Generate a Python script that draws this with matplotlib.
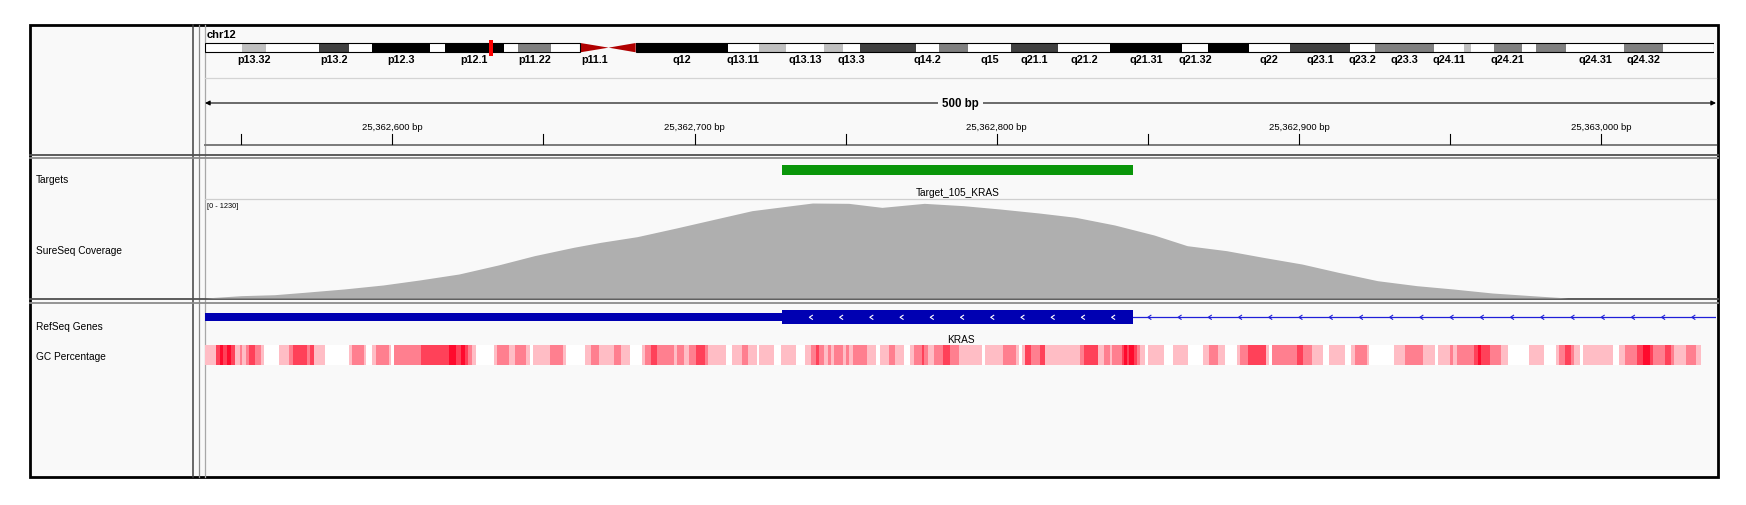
import matplotlib
matplotlib.use("Agg")
import matplotlib.pyplot as plt
import numpy as np
from matplotlib.patches import Rectangle, Polygon

plt.rcParams['font.family'] = ['Liberation Sans', 'DejaVu Sans']

W, H = 1746, 506
VIEW_START = 25362538
VIEW_END = VIEW_START + 500
CHR_LEN = 133.851895  # Mb
CURRENT_CHR = "chr12"

# chr12 cytobands (Mb)
band_names = ["p13.33", "p13.32", "p13.31", "p13.2", "p13.1", "p12.3", "p12.2", "p12.1",
              "p11.23", "p11.22", "p11.21", "p11.1", "q11", "q12", "q13.11", "q13.12",
              "q13.13", "q13.2", "q13.3", "q14.1", "q14.2", "q14.3", "q15", "q21.1",
              "q21.2", "q21.31", "q21.32", "q21.33", "q22", "q23.1", "q23.2", "q23.3",
              "q24.11", "q24.12", "q24.13", "q24.21", "q24.22", "q24.23", "q24.31",
              "q24.32", "q24.33"]
band_start = [0.0, 3.3, 5.4, 10.1, 12.8, 14.8, 20.0, 21.3, 26.5, 27.8, 30.7, 33.3, 35.8,
              38.2, 46.4, 49.1, 51.5, 54.9, 56.6, 58.1, 63.1, 65.1, 67.7, 71.5, 75.7, 80.3,
              86.7, 89.0, 92.6, 96.2, 101.6, 103.8, 109.0, 111.7, 112.3, 114.3, 116.8,
              118.1, 120.7, 125.9, 129.3]
band_end = band_start[1:] + [CHR_LEN]
band_stain = ["gneg", "gpos25", "gneg", "gpos75", "gneg", "gpos100", "gneg", "gpos100",
              "gneg", "gpos50", "gneg", "acen", "acen", "gpos100", "gneg", "gpos25",
              "gneg", "gpos25", "gneg", "gpos75", "gneg", "gpos50", "gneg", "gpos75",
              "gneg", "gpos100", "gneg", "gpos100", "gneg", "gpos75", "gneg", "gpos50",
              "gneg", "gpos25", "gneg", "gpos50", "gneg", "gpos50", "gneg", "gpos50", "gneg"]
shown_labels = ["p13.32", "p13.2", "p12.3", "p12.1", "p11.22", "p11.1", "q12", "q13.11",
                "q13.13", "q13.3", "q14.2", "q15", "q21.1", "q21.2", "q21.31", "q21.32",
                "q22", "q23.1", "q23.2", "q23.3", "q24.11", "q24.21", "q24.31", "q24.32"]

# ruler
ruler_ticks = [25362550, 25362600, 25362650, 25362700, 25362750, 25362800,
               25362850, 25362900, 25362950, 25363000]
ruler_labels = {25362600: "25,362,600 bp", 25362700: "25,362,700 bp",
                25362800: "25,362,800 bp", 25362900: "25,362,900 bp",
                25363000: "25,363,000 bp"}

# targets
target_name = "Target_105_KRAS"
target_start = 25362729
target_end = 25362845

# RefSeq gene (minus strand)
gene_name = "KRAS"
utr_start = 25358180
cds_start = 25362729
cds_end = 25362845
gene_end = 25403854

# coverage, offsets from VIEW_START
cov_max = 1230
cov_offset = [0, 12, 23, 33, 46, 59, 71, 84, 97, 109, 122, 131, 143, 156, 169, 181, 194,
              201, 213, 224, 238, 251, 263, 276, 288, 301, 314, 325, 338, 350, 363, 375,
              388, 401, 413, 426, 439, 451, 500]
cov_value = [0, 29, 41, 71, 112, 162, 224, 298, 410, 526, 630, 692, 762, 870, 982, 1085,
             1147, 1180, 1176, 1126, 1176, 1147, 1106, 1056, 1003, 907, 783, 650, 588,
             506, 422, 319, 215, 153, 112, 62, 29, 0, 0]

# GC percentage runs: start offset from VIEW_START and shade level (0 = white)
gc_offset = [0.0, 3.6, 5.0, 6.1, 7.2, 8.5, 9.9, 11.6, 12.4, 13.5, 14.7, 16.5, 18.5, 19.5,
             24.6, 27.9, 29.2, 33.8, 34.9, 36.0, 39.7, 47.7, 48.8, 52.7, 53.4, 55.4, 56.5,
             60.9, 61.7, 62.6, 71.6, 80.7, 83.2, 84.8, 85.9, 87.0, 88.5, 89.6, 95.6, 96.7,
             100.5, 102.5, 106.3, 107.4, 108.5, 114.3, 118.4, 119.5, 125.6, 127.6, 130.5,
             135.5, 137.5, 140.5, 144.6, 145.7, 147.6, 149.6, 155.3, 156.2, 158.4, 160.3,
             162.5, 165.5, 166.3, 172.4, 174.4, 177.6, 179.6, 182.5, 183.4, 188.4, 190.6,
             195.5, 198.6, 200.5, 202.1, 203.2, 204.7, 206.0, 207.1, 208.2, 211.0, 212.0,
             213.2, 214.3, 219.2, 222.2, 223.4, 226.4, 228.4, 231.3, 233.3, 234.6, 237.2,
             238.0, 239.4, 241.2, 244.3, 246.4, 249.5, 257.2, 258.1, 264.0, 268.2, 269.3,
             270.2, 271.5, 273.4, 276.2, 277.9, 289.7, 290.8, 295.5, 297.4, 299.6, 300.2,
             303.3, 304.0, 305.1, 305.9, 307.3, 308.4, 309.5, 311.2, 312.1, 317.3, 320.2,
             325.3, 330.3, 332.1, 335.2, 337.4, 341.5, 342.6, 345.3, 351.1, 352.2, 353.1,
             361.3, 363.2, 366.3, 370.1, 372.1, 377.3, 379.2, 380.4, 384.4, 385.2, 393.3,
             397.1, 402.9, 407.0, 408.1, 412.0, 413.1, 414.2, 420.0, 421.1, 422.2, 425.2,
             429.0, 431.3, 438.2, 443.1, 447.2, 448.1, 450.0, 452.0, 453.1, 454.9, 456.0,
             465.9, 467.9, 469.8, 474.0, 475.9, 478.1, 479.2, 483.0, 485.2, 486.1, 490.2,
             493.3]
gc_level = [1, 3, 4, 3, 4, 3, 1, 2, 1, 2, 3, 2, 1, 0,
            1, 2, 3, 2, 3, 1, 0, 1, 2, 1, 0, 1, 2,
            1, 0, 2, 3, 4, 3, 4, 3, 2, 1, 0, 1, 2,
            1, 2, 1, 0, 1, 2, 1, 0, 1, 2, 1,
            2, 1, 0, 1, 2, 3, 2, 1, 2, 1, 2,
            3, 2, 1, 0, 1, 2, 1, 0, 1, 0, 1,
            0, 1, 2, 3, 2, 1, 2, 1, 2, 1, 2,
            1, 2, 1, 0, 1, 2, 1, 0, 1, 2, 3,
            2, 1, 2, 3, 2, 1, 0, 1, 2, 1, 0,
            1, 3, 2, 3, 1, 2, 3, 1, 2, 1, 2,
            3, 4, 3, 4, 3, 2, 1, 0, 1, 0, 1,
            0, 1, 2, 1, 0, 1, 2, 3, 1, 0, 2,
            3, 2, 1, 0, 1, 0, 1, 2, 1, 0, 1,
            2, 1, 0, 1, 2, 1, 2, 3, 4, 3, 2,
            1, 0, 1, 0, 1, 2, 3, 2, 1, 0, 1,
            0, 1, 2, 3, 4, 3, 2, 3, 2, 1, 2,
            1]
gc_end_offset = 495.2

STAIN = {"gneg": "#ffffff", "gpos25": "#c0c0c0", "gpos50": "#808080",
         "gpos75": "#404040", "gpos100": "#000000", "acen": "#b00000"}
GC_COLORS = {0: "#ffffff", 1: "#ffbdc5", 2: "#ff7f8f", 3: "#ff4159", 4: "#ff0a2d"}
PANEL_BG = "#f9f9f9"
GENE_BLUE = "#0000b2"

fig = plt.figure(figsize=(W / 100, H / 100), dpi=100)

# background canvas in pixel coords
bg = fig.add_axes([0, 0, 1, 1])
bg.set_xlim(0, W)
bg.set_ylim(H, 0)
bg.axis("off")

DL, DR = 205, 1716  # data panel left/right


def px_axes(x0, y0, x1, y1):
    a = fig.add_axes([x0 / W, 1 - y1 / H, (x1 - x0) / W, (y1 - y0) / H])
    a.set_facecolor("none")
    a.axis("off")
    return a


bg.add_patch(Rectangle((30, 26), 1688, 452, facecolor=PANEL_BG, edgecolor="none"))
# vertical dividers
bg.plot([193, 193], [26, 478], color="#404040", lw=1.1)
bg.plot([198.5, 198.5], [26, 478], color="#8a8a8a", lw=0.9)
bg.plot([DL, DL], [26, 478], color="#a8a8a8", lw=0.9)
# horizontal dividers
for y1, y2 in [(156, 158.5), (300, 303.5)]:
    bg.plot([30, 1718], [y1, y1], color="#505050", lw=1.3)
    bg.plot([30, 1718], [y2, y2], color="#8c8c8c", lw=1.3)
# header separators
bg.plot([DL, DR], [79, 79], color="#d4d4d4", lw=0.9)
bg.plot([DL, DR], [145.5, 145.5], color="#7a7a7a", lw=1.4)
bg.plot([DL, DR], [199.5, 199.5], color="#cfcfcf", lw=0.9)
# outer border
bg.add_patch(Rectangle((30, 26), 1688, 452, facecolor="none", edgecolor="black", lw=2))

# track names
for label, y in [("Targets", 180), ("SureSeq Coverage", 251),
                 ("RefSeq Genes", 327), ("GC Percentage", 357)]:
    bg.text(36, y, label, fontsize=7.3, va="center", ha="left", color="black")
bg.text(207, 35, CURRENT_CHR, fontsize=8, fontweight="bold", va="center", ha="left")

# ideogram
iax = px_axes(DL, 26, 1714, 156)
iax.set_xlim(0, CHR_LEN)
iax.set_ylim(130, 0)
yt, yb = 18, 27.3
for name, s, e, st in zip(band_names, band_start, band_end, band_stain):
    if st == "acen":
        if name.startswith("p"):
            pts = [(s, yt), (e, (yt + yb) / 2), (s, yb)]
        else:
            pts = [(e, yt), (s, (yt + yb) / 2), (e, yb)]
        iax.add_patch(Polygon(pts, closed=True, facecolor=STAIN[st], edgecolor="none"))
    else:
        iax.add_patch(Rectangle((s, yt), e - s, yb - yt, facecolor=STAIN[st], edgecolor="none"))
    if name in shown_labels:
        iax.text((s + e) / 2, 34.5, name, fontsize=7.8, fontweight="bold", ha="center", va="center")
p_end = band_start[band_names.index("p11.1")]
q_start = band_end[band_names.index("q11")]
iax.add_patch(Rectangle((0, yt), p_end, yb - yt, facecolor="none", edgecolor="black", lw=0.8))
iax.add_patch(Rectangle((q_start, yt), CHR_LEN - q_start, yb - yt, facecolor="none",
                        edgecolor="black", lw=0.8))
view_mid = (VIEW_START + VIEW_END) / 2 / 1e6
iax.add_patch(Rectangle((view_mid - 0.18, yt - 3.3), 0.36, yb - yt + 6.6,
                        facecolor="#ff0000", edgecolor="none"))

# genomic axes (x in bp, y in pixels)
gax = px_axes(DL, 26, DR, 478)
gax.set_xlim(VIEW_START, VIEW_END)
gax.set_ylim(478, 26)

# ruler
gax.annotate("", xy=(VIEW_START, 104), xytext=(VIEW_END, 104),
             arrowprops=dict(arrowstyle="<|-|>", color="black", lw=0.8,
                             mutation_scale=7, shrinkA=0, shrinkB=0))
gax.text((VIEW_START + VIEW_END) / 2, 104, "500 bp", fontsize=8.3, fontweight="bold",
         ha="center", va="center",
         bbox=dict(facecolor=PANEL_BG, edgecolor="none", pad=3))
for t in ruler_ticks:
    gax.plot([t, t], [135, 145], color="black", lw=0.8)
    if t in ruler_labels:
        gax.text(t, 127, ruler_labels[t], fontsize=6.8, ha="center", va="center")

# targets
gax.add_patch(Rectangle((target_start, 166), target_end - target_start, 9.5,
                        facecolor="#0a960a", edgecolor="none"))
gax.text((target_start + target_end) / 2, 193, target_name, fontsize=7.3,
         ha="center", va="center")

# gene
gax.add_patch(Rectangle((utr_start, 314), cds_start - utr_start, 8,
                        facecolor=GENE_BLUE, edgecolor="none"))
gax.add_patch(Rectangle((cds_start, 311), cds_end - cds_start, 14,
                        facecolor=GENE_BLUE, edgecolor="none"))
gax.plot([cds_end, gene_end], [318.3, 318.3], color="#2020d8", lw=0.9)
for c in np.arange(cds_start + 9, cds_end - 2, 10):
    gax.plot([c + 1, c, c + 1], [316.3, 318.3, 320.3], color="white", lw=0.8)
for c in np.arange(cds_end + 5, VIEW_END - 3, 10):
    gax.plot([c + 1, c, c + 1], [316.3, 318.3, 320.3], color="#2020d8", lw=0.8)
gax.text((VIEW_START + VIEW_END) / 2, 340, gene_name, fontsize=7.3, ha="center", va="center")

# GC percentage
gc_pos = [VIEW_START + o for o in gc_offset]
gc_w = np.diff(gc_offset + [gc_end_offset])
gax.bar(gc_pos, 20, width=gc_w, bottom=346, align="edge",
        color=[GC_COLORS[l] for l in gc_level], edgecolor="none")

# coverage
cax = px_axes(DL, 200, DR, 299)
cax.set_xlim(VIEW_START, VIEW_END)
cax.set_ylim(0, cov_max)
cax.fill_between([VIEW_START + o for o in cov_offset], cov_value, 0,
                 color="#afafaf", lw=0)
bg.text(207, 207, "[0 - %d]" % cov_max, fontsize=5.3, ha="left", va="center")

fig.savefig("out.png", dpi=100, facecolor="white")
